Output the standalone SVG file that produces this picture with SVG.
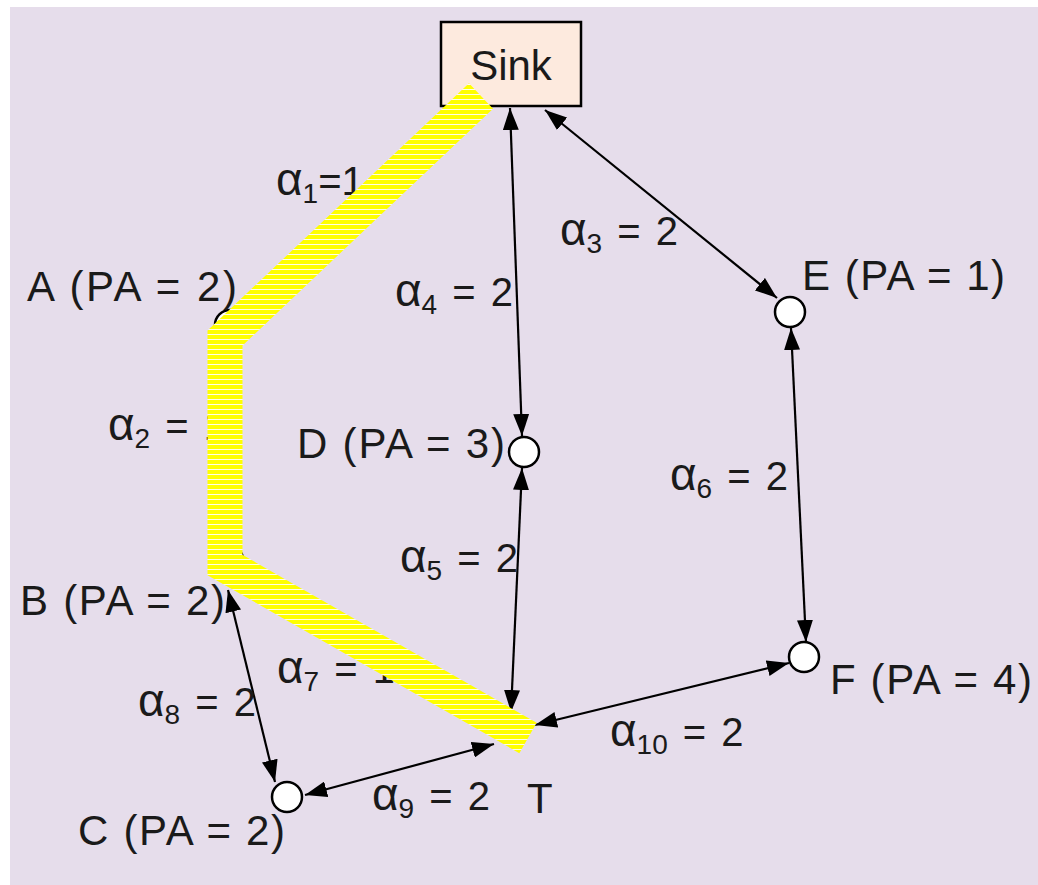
<svg xmlns="http://www.w3.org/2000/svg" width="1038" height="885" viewBox="0 0 1038 885">
<style>
.lbl{font-family:"Liberation Sans","Noto Sans",sans-serif;font-size:42px;fill:#1a1a1a}
.al{font-family:"Liberation Sans","Noto Sans",sans-serif;font-size:40px;fill:#1a1a1a;word-spacing:4px}
.a{font-size:46px}
.sub{font-size:28px}
.edge{stroke:#000;stroke-width:2.2;fill:none;marker-start:url(#ah);marker-end:url(#ah)}
.node{fill:#fff;stroke:#000;stroke-width:2.5}
</style>
<defs>
<marker id="ah" markerUnits="userSpaceOnUse" markerWidth="24" markerHeight="16" refX="22" refY="8" orient="auto-start-reverse">
<path d="M0,0 L22,8 L0,16 Z" fill="#000"/>
</marker>
<pattern id="hatch" patternUnits="userSpaceOnUse" x="0" y="0" width="10" height="5">
<rect width="10" height="5" fill="#ffff00"/>
<rect y="4" width="10" height="1" fill="#ffffff" opacity="0.9"/>
</pattern>
</defs>
<rect width="1038" height="885" fill="#ffffff"/>
<rect x="10" y="7" width="1028" height="878" fill="#e6ddeb"/>

<g id="connectors">
<line class="edge" x1="478" y1="100" x2="234" y2="316"/>
<line class="edge" x1="229" y1="340" x2="229" y2="545"/>
<line class="edge" x1="510" y1="108" x2="522" y2="436"/>
<line class="edge" x1="545" y1="110" x2="777" y2="298"/>
<line class="edge" x1="522" y1="468" x2="511" y2="712"/>
<line class="edge" x1="791" y1="328" x2="806" y2="642"/>
<line class="edge" x1="240" y1="572" x2="500" y2="724"/>
<line class="edge" x1="228" y1="590" x2="275" y2="782"/>
<line class="edge" x1="305" y1="795" x2="494" y2="744"/>
<line class="edge" x1="535" y1="725" x2="789" y2="663"/>
</g>

<g id="sink"><rect x="441" y="22" width="140" height="84" fill="#fdeade" stroke="#000" stroke-width="2.5"/><text class="lbl" x="511" y="80" text-anchor="middle" font-size="44">Sink</text></g>
<g id="A"><circle class="node" cx="230" cy="325" r="15"/><text class="lbl" x="27" y="301" textLength="210" lengthAdjust="spacing">A (PA = 2)</text></g>
<g id="B"><circle class="node" cx="228" cy="560" r="15"/><text class="lbl" x="20" y="615" textLength="205" lengthAdjust="spacing">B (PA = 2)</text></g>
<g id="C"><circle class="node" cx="287" cy="797" r="15"/><text class="lbl" x="78" y="845" textLength="207" lengthAdjust="spacing">C (PA = 2)</text></g>
<g id="D"><circle class="node" cx="524" cy="452" r="15"/><text class="lbl" x="297" y="458" textLength="208" lengthAdjust="spacing">D (PA = 3)</text></g>
<g id="E"><circle class="node" cx="790" cy="312" r="15"/><text class="lbl" x="802" y="290" textLength="203" lengthAdjust="spacing">E (PA = 1)</text></g>
<g id="F"><circle class="node" cx="804" cy="657" r="15"/><text class="lbl" x="830" y="694" textLength="202" lengthAdjust="spacing">F (PA = 4)</text></g>
<g id="T"><circle class="node" cx="510" cy="728" r="15"/><text class="lbl" x="527" y="813">T</text></g>

<g id="edge-labels">
<text class="al" x="276" y="195"><tspan class="a">α</tspan><tspan class="sub" dy="8">1</tspan><tspan dy="-8">=1</tspan></text>
<text class="al" x="108" y="440"><tspan class="a">α</tspan><tspan class="sub" dy="8">2</tspan><tspan dy="-8"> = 1</tspan></text>
<text class="al" x="560" y="245"><tspan class="a">α</tspan><tspan class="sub" dy="8">3</tspan><tspan dy="-8"> = 2</tspan></text>
<text class="al" x="395" y="306"><tspan class="a">α</tspan><tspan class="sub" dy="8">4</tspan><tspan dy="-8"> = 2</tspan></text>
<text class="al" x="400" y="572"><tspan class="a">α</tspan><tspan class="sub" dy="8">5</tspan><tspan dy="-8"> = 2</tspan></text>
<text class="al" x="670" y="490"><tspan class="a">α</tspan><tspan class="sub" dy="8">6</tspan><tspan dy="-8"> = 2</tspan></text>
<text class="al" x="277" y="683"><tspan class="a">α</tspan><tspan class="sub" dy="8">7</tspan><tspan dy="-8"> = 1</tspan></text>
<text class="al" x="138" y="716"><tspan class="a">α</tspan><tspan class="sub" dy="8">8</tspan><tspan dy="-8"> = 2</tspan></text>
<text class="al" x="372" y="810"><tspan class="a">α</tspan><tspan class="sub" dy="8">9</tspan><tspan dy="-8"> = 2</tspan></text>
<text class="al" x="610" y="746"><tspan class="a">α</tspan><tspan class="sub" dy="8">10</tspan><tspan dy="-8"> = 2</tspan></text>
</g>

<g id="highlight">
<path d="M481,96 L225,338 L225,565 L528,738" fill="none" stroke="url(#hatch)" stroke-width="35" stroke-linejoin="miter" stroke-linecap="butt"/>
</g>
</svg>
